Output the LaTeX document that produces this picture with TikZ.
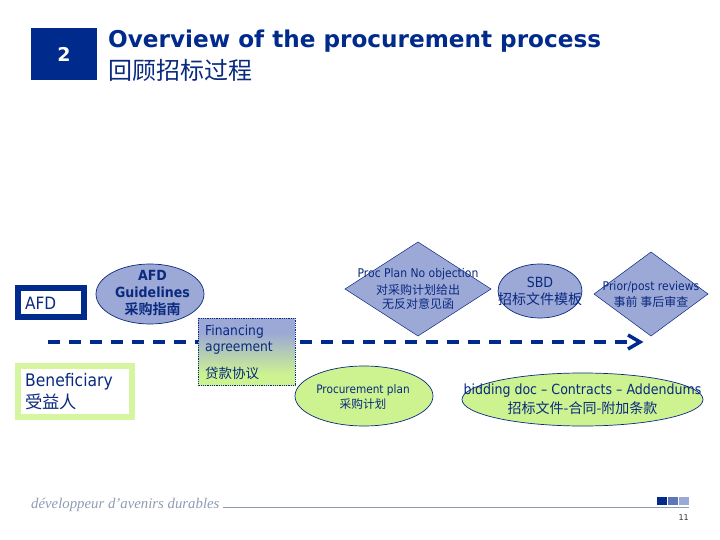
\documentclass[tikz,border=0pt]{standalone}
\usepackage{fontspec}
\setmainfont{DejaVu Sans}
\newfontfamily\cond[FakeStretch=0.9]{DejaVu Sans}
\newfontfamily\condb[FakeStretch=0.9]{DejaVu Sans Bold}
\newfontfamily\hand{Liberation Serif Italic}
\newfontfamily\cjk{Noto Sans CJK SC}
\newfontfamily\cjkb{Noto Sans CJK SC Bold}
\usetikzlibrary{shapes.geometric,arrows.meta,fit}
\definecolor{navy}{HTML}{002A8C}
\definecolor{ink}{HTML}{0A2A80}
\definecolor{periw}{HTML}{9CA8D6}
\definecolor{lime}{HTML}{CDF290}
\definecolor{limeb}{HTML}{D6F5A0}
\definecolor{foot}{HTML}{8E9CB4}
\pgfdeclareverticalshading{finshade}{100bp}{
  color(0bp)=(lime); color(33bp)=(lime); color(64bp)=(periw); color(100bp)=(periw)}
\tikzset{
  x=1pt,y=-1pt,
  txt/.style={text=ink,align=center,inner sep=0pt},
  elp/.style={draw=ink,line width=.7pt,ellipse,minimum width=#1,inner sep=0pt},
  blueell/.style={fill=periw},
  greenell/.style={fill=lime},
  dia/.style={draw=ink,line width=.5pt,fill=periw},
  flow/.style={draw=navy,line width=4pt,dash pattern=on 12pt off 9pt},
}
\newcommand{\sz}[1]{\fontsize{#1}{#1}\selectfont}
\begin{document}
\begin{tikzpicture}
\useasboundingbox (0,0) rectangle (720,540);
\fill[white] (0,0) rectangle (720,540);
% header
\node[fill=navy,minimum width=66pt,minimum height=52pt,inner sep=0pt,text=white,font=\sz{19}\bfseries] (num) at (64,54.5) {2};
\node[anchor=west,inner sep=0pt,text=navy,font=\sz{23.15}\bfseries] (title) at (108,41) {Overview of the procurement process};
\node[anchor=west,inner sep=0pt,text=ink,font=\cjk\sz{24}] (titlecn) at (108,70) {回顾招标过程};
% flow
\coordinate (flowa) at (48,342);
\coordinate (flowb) at (638,342);
\draw[flow] (flowa) -- (flowb);
\coordinate (tipa) at (628,335);
\coordinate (tipb) at (628,349);
\coordinate (tipc) at (640,342);
\draw[navy,line width=3.5pt,miter limit=4] (tipa) -- (tipc) -- (tipb);
% parties
\node[draw=navy,line width=6pt,fill=white,minimum width=66pt,minimum height=29pt,inner sep=0pt] (afd) at (51,302.5) {};
\node[anchor=west,txt,font=\cond\sz{17}] (afdt) at (25,303) {AFD};
\node[draw=limeb,line width=6pt,fill=white,minimum width=114pt,minimum height=51pt,inner sep=0pt] (ben) at (75,391.5) {};
\node[anchor=west,txt,align=left,font=\cond\sz{17.3},text=ink] (bent) at (25,391.5) {Beneficiary\\[3pt]{\cjk 受益人}};
% ellipses
\node[elp=108pt,minimum height=60pt,blueell] (guide) at (150,294) {};
\node[txt,font=\condb\sz{14}] (guidet) at (152.5,293) {AFD\\[3pt]Guidelines\\[3pt]{\cjkb 采购指南}};
\node[elp=84pt,minimum height=54pt,blueell] (sbd) at (540,291) {};
\node[txt,font=\cond\sz{14}] at (sbd) {SBD\\[3pt]{\cjk 招标文件模板}};
\node[elp=138pt,minimum height=60pt,greenell] (plan) at (364,396) {};
\node[txt,font=\cond\sz{11.7}] (plant) at (363,397) {Procurement plan\\[2pt]{\cjk 采购计划}};
\node[elp=241pt,minimum height=53pt,greenell] (bid) at (582.5,399.5) {};
\node[txt,font=\cond\sz{14}] at (bid) {bidding doc – Contracts – Addendums\\[3pt]{\cjk 招标文件-合同-附加条款}};
% diamonds
\coordinate (d1n) at (418,242);\coordinate (d1e) at (491,289);\coordinate (d1s) at (418,336);\coordinate (d1w) at (345,289);
\draw[dia] (d1n) -- (d1e) -- (d1s) -- (d1w) -- cycle;
\node[txt,font=\cond\sz{12}] (d1t) at (418,289) {Proc Plan No objection\\[3pt]{\cjk 对采购计划给出}\\[2pt]{\cjk 无反对意见函}};
\coordinate (d2n) at (651,252);\coordinate (d2e) at (708,294);\coordinate (d2s) at (651,336);\coordinate (d2w) at (594,294);
\draw[dia] (d2n) -- (d2e) -- (d2s) -- (d2w) -- cycle;
\node[txt,font=\cond\sz{12}] (d2t) at (651,294.5) {Prior/post reviews\\[3pt]{\cjk 事前 事后审查}};
% financing box
\coordinate (fina) at (198,318);
\coordinate (finb) at (295,385);
\shade[shading=finshade] (fina) rectangle (finb);
\draw[ink,line width=.8pt,densely dotted] (fina) rectangle (finb);
\node[anchor=north west,txt,align=left,font=\cond\sz{13.7}] (fint) at (205,325) {Financing\\[2.5pt]agreement\\[11pt]{\cjk\sz{13.5}贷款协议}};
% footer
\node[anchor=base west,inner sep=0pt,text=foot,font=\hand\sz{14.8}] (slogan) at (31,508) {développeur d’avenirs durables};
\coordinate (la) at (223,507);
\coordinate (lb) at (689,507);
\draw[foot,line width=.8pt] (la) -- (lb);
\fill[navy] (657,497) rectangle (667,505);
\fill[periw!60!navy] (668,497) rectangle (678,505);
\fill[periw] (679,497) rectangle (689,505);
\node[anchor=east,inner sep=0pt,text=black!80,font=\sz{8}] (pg) at (689,518) {11};
\end{tikzpicture}
\end{document}
